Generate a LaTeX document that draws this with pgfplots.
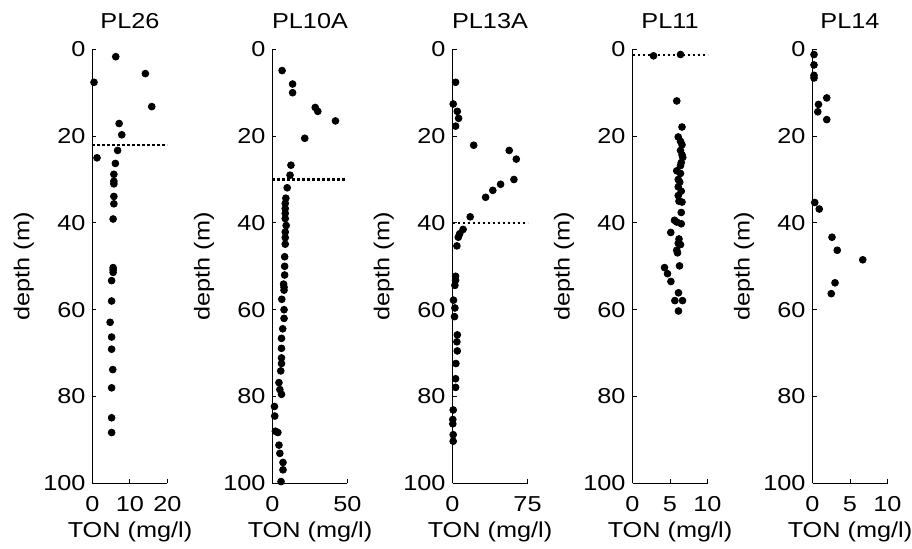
\documentclass[border=0pt]{standalone}
\usepackage{pgfplots}
\pgfplotsset{compat=1.18}
\usepackage{fontspec}
\setmainfont{Liberation Sans}[FakeStretch=1.17]
\pgfplotsset{
  panel/.style={
    scale only axis, width=37.5pt, height=217pt,
    y dir=reverse, ymin=0, ymax=100, ytick={0,20,40,60,80,100},
    axis x line*=bottom, axis y line*=left,
    axis line style={-, line width=0.5pt, black},
    every tick/.style={black, line width=0.5pt},
    major tick length=2pt, tick align=inside,
    font=\fontsize{10.8}{12}\selectfont,
    /pgf/number format/assume math mode=true,
    xticklabel style={anchor=base, yshift=-14.2pt, inner sep=0pt},
    yticklabel style={anchor=east, xshift=-3.3pt, inner sep=0pt},
    xlabel={TON (mg/l)}, ylabel={depth (m)},
    every axis x label/.style={at={(axis description cs:0.5,-0.1244)}, anchor=base},
    every axis y label/.style={at={(axis description cs:-0.84,0.5)}, rotate=90, anchor=base},
    every axis title/.style={at={(axis description cs:0.5,1.0484)}, anchor=base},
    clip=false,
  },
  pts/.style={only marks, mark=*, mark size=1.7pt, black, mark options={draw=black, fill=black}},
  lim/.style={black, line width=1.1pt, dash pattern=on 1.2pt off 1.3pt, no marks},
}
\pgfplotstableread{
x y
6.2 1.7
0.4 7.6
14.1 5.6
15.8 13.2
7.1 17.1
7.8 19.7
6.7 23.3
1.2 25.0
6.1 26.3
5.7 28.8
5.7 30.4
5.7 31.0
5.7 33.9
5.7 35.6
5.5 39.1
5.5 50.3
5.5 50.8
5.5 51.4
5.1 53.3
5.1 58.0
4.7 62.9
5.1 66.3
5.1 69.1
5.4 73.8
5.1 78.0
5.1 84.9
5.1 88.3
}\dataA
\pgfplotstableread{
x y
6.4 4.9
13.4 8.0
13.4 10.0
28.5 13.4
30.2 14.3
42.0 16.5
21.5 20.5
12.3 26.7
11.7 29.0
9.8 31.9
8.9 34.3
8.5 35.5
8.5 36.7
8.5 37.8
8.5 39.0
9.1 40.6
8.5 42.1
8.5 43.4
8.5 44.9
8.1 47.8
8.1 50.0
8.1 52.0
7.4 54.1
7.7 54.8
7.7 55.5
6.2 57.6
7.7 60.0
7.7 62.0
6.8 64.4
6.0 66.6
6.0 68.9
6.0 71.1
6.0 72.4
5.5 74.1
4.3 76.8
4.9 78.4
6.0 79.5
1.3 82.3
1.5 84.5
1.9 88.0
3.6 88.3
4.3 91.2
4.9 93.1
7.0 95.2
7.0 96.9
5.7 99.6
}\dataB
\pgfplotstableread{
x y
3.1 7.6
0.7 12.6
4.8 14.3
6.1 15.9
3.1 17.7
21.2 22.1
56.7 23.3
63.8 25.3
61.4 30.0
48.1 31.1
40.3 32.5
33.1 34.1
17.7 38.6
10.6 41.5
7.2 42.5
5.8 43.3
4.4 45.3
3.1 52.3
3.1 53.2
2.4 54.4
1.0 57.8
2.4 59.6
2.0 61.6
4.8 65.8
4.4 67.4
4.8 69.5
3.4 72.4
3.1 75.9
3.1 77.9
0.7 83.1
0.3 85.3
0.3 86.3
0.7 88.8
0.7 90.3
}\dataC
\pgfplotstableread{
x y
2.8 1.5
6.4 1.2
5.9 11.9
6.6 17.9
6.1 20.2
6.4 21.2
6.6 22.0
6.4 23.3
6.6 24.3
6.7 24.9
6.5 26.1
6.4 26.8
5.9 28.0
6.4 28.6
6.1 30.0
6.3 30.6
6.1 31.7
6.5 32.7
6.1 33.7
6.2 35.0
6.6 35.2
6.5 37.6
5.6 39.4
5.9 39.8
6.5 40.2
5.1 42.2
6.2 43.7
6.1 44.7
6.4 45.0
5.9 46.3
6.0 46.9
6.27 49.9
4.27 50.3
4.67 51.7
5.12 53.5
6.13 56.1
5.65 57.9
6.67 57.9
6.13 60.3
}\dataD
\pgfplotstableread{
x y
0.2 1.2
0.2 3.6
0.2 6.0
0.2 6.6
1.9 11.2
0.8 12.7
0.7 14.4
1.9 16.2
0.3 35.3
0.9 36.8
2.6 43.3
3.3 46.3
6.7 48.5
3.0 53.8
2.5 56.3
}\dataE
\begin{document}
\begin{tikzpicture}
\path[use as bounding box] (0,0) rectangle (456pt,274pt);
\begin{axis}[panel, at={(46.25pt,32.35pt)}, anchor=south west, title={PL26},
  xmin=0, xmax=20, xtick={0,10,20}]
\addplot[lim] coordinates {(0,22) (20,22)};
\addplot[pts] table[x=x,y=y] {\dataA};
\end{axis}
\begin{axis}[panel, at={(136.25pt,32.35pt)}, anchor=south west, title={PL10A},
  xmin=0, xmax=50, xtick={0,50}]
\addplot[lim] coordinates {(0,30) (50,30)};
\addplot[pts] table[x=x,y=y] {\dataB};
\end{axis}
\begin{axis}[panel, at={(226.25pt,32.35pt)}, anchor=south west, title={PL13A},
  xmin=0, xmax=75, xtick={0,75}]
\addplot[lim] coordinates {(0,40) (75,40)};
\addplot[pts] table[x=x,y=y] {\dataC};
\end{axis}
\begin{axis}[panel, at={(316.25pt,32.35pt)}, anchor=south west, title={PL11},
  xmin=0, xmax=10, xtick={0,5,10}]
\addplot[lim] coordinates {(0,1.4) (10,1.4)};
\addplot[pts] table[x=x,y=y] {\dataD};
\end{axis}
\begin{axis}[panel, at={(406.25pt,32.35pt)}, anchor=south west, title={PL14},
  xmin=0, xmax=10, xtick={0,5,10}]
\addplot[pts] table[x=x,y=y] {\dataE};
\end{axis}
\end{tikzpicture}
\end{document}
